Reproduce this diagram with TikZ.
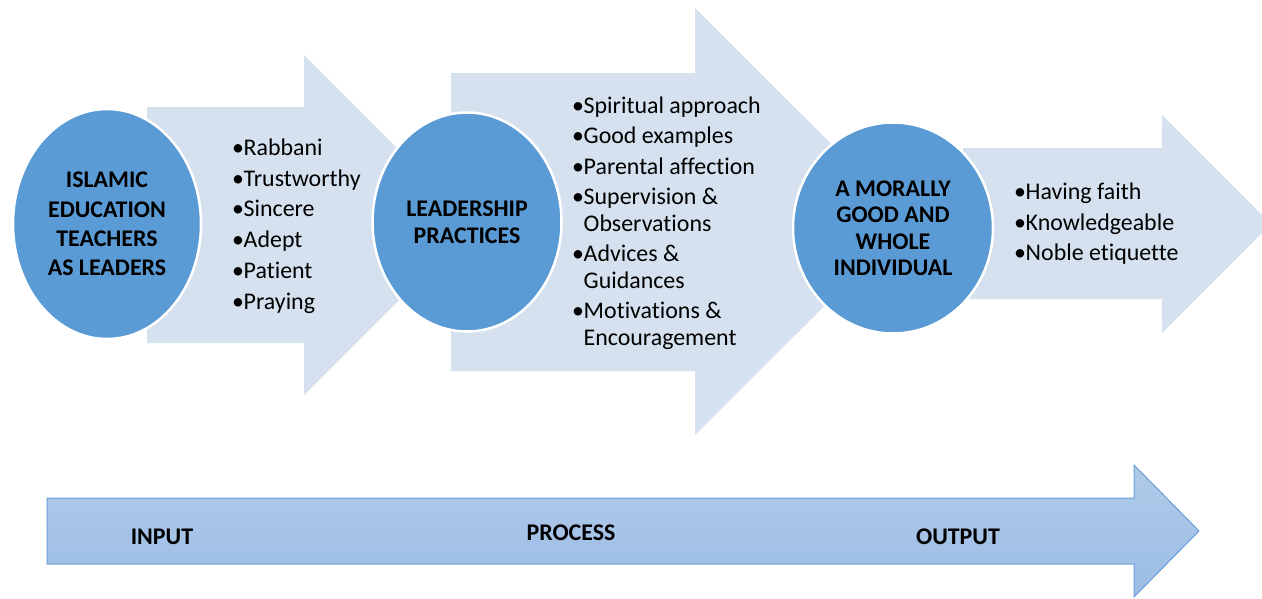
\documentclass[tikz,border=0pt]{standalone}
\usepackage{fontspec}
\setmainfont{Carlito}[Ligatures=NoCommon]
\usetikzlibrary{shapes.geometric}
\definecolor{arrowfill}{HTML}{D5E1EF}
\definecolor{circfill}{HTML}{5B9BD5}
\definecolor{bartop}{HTML}{B1CBE9}
\definecolor{barbot}{HTML}{9BBCE5}
\definecolor{barline}{HTML}{6A9FD8}
\newcommand{\bul}{\makebox[11.5pt][l]{•}}
\newcommand{\ind}{\hspace*{11.5pt}}
\begin{document}
\begin{tikzpicture}[x=1pt,y=-1pt,
  bigarrow/.style={fill=arrowfill,draw=none},
  disc/.style={ellipse,fill=circfill,draw=white,line width=2.5pt,inner sep=0pt,align=center,
    font=\bfseries\fontsize{23.9}{26.5}\selectfont},
  blist/.style={anchor=west,inner sep=0pt,align=left,font=\fontsize{23.9}{26.5}\selectfont},
  stage/.style={font=\bfseries\fontsize{23.9}{28}\selectfont,inner sep=0pt}]
\useasboundingbox (0,0) rectangle (1262,598);
\begin{scope}
\clip (0,0) rectangle (1262,598);
% big light arrows
\fill[bigarrow] (147,107) -- (304,107) -- (304,55) -- (474,225) -- (304,395) -- (304,343) -- (147,343) -- cycle;
\fill[bigarrow] (451,73) -- (695,73) -- (695,8) -- (909,221.5) -- (695,435) -- (695,371) -- (451,371) -- cycle;
\fill[bigarrow] (963,148) -- (1162,148) -- (1162,115) -- (1271,224) -- (1162,333) -- (1162,299) -- (963,299) -- cycle;
\end{scope}
% circles
\node[disc,minimum width=188pt,minimum height=230pt,font=\bfseries\fontsize{23.9}{29.3}\selectfont] (c1) at (107,224) {ISLAMIC\\EDUCATION\\TEACHERS\\AS LEADERS};
\node[disc,minimum width=189pt,minimum height=219pt] (c2) at (467,222) {LEADERSHIP\\PRACTICES};
\node[disc,minimum width=200pt,minimum height=211pt] (c3) at (893,228) {A MORALLY\\GOOD AND\\WHOLE\\INDIVIDUAL};
% lists
\node[blist] (l1) at (232,226) {\bul Rabbani\\[4.3pt]\bul Trustworthy\\[4.3pt]\bul Sincere\\[4.3pt]\bul Adept\\[4.3pt]\bul Patient\\[4.3pt]\bul Praying};
\node[blist] (l2) at (572,223) {\bul Spiritual approach\\[4pt]\bul Good examples\\[4pt]\bul Parental affection\\[4pt]\bul Supervision \&\\\ind Observations\\[4pt]\bul Advices \&\\\ind Guidances\\[4pt]\bul Motivations \&\\\ind Encouragement};
\node[blist] (l3) at (1014,224) {\bul Having faith\\[4pt]\bul Knowledgeable\\[4pt]\bul Noble etiquette};
% bottom arrow
\draw[draw=barline,line width=1pt,top color=bartop,bottom color=barbot] (47,498) -- (1134,498) -- (1134,465) -- (1199,531) -- (1134,597) -- (1134,564) -- (47,564) -- cycle;
\node[stage] (in) at (162,537) {INPUT};
\node[stage] (pr) at (571,533) {PROCESS};
\node[stage] (out) at (958,537) {OUTPUT};
\end{tikzpicture}
\end{document}
